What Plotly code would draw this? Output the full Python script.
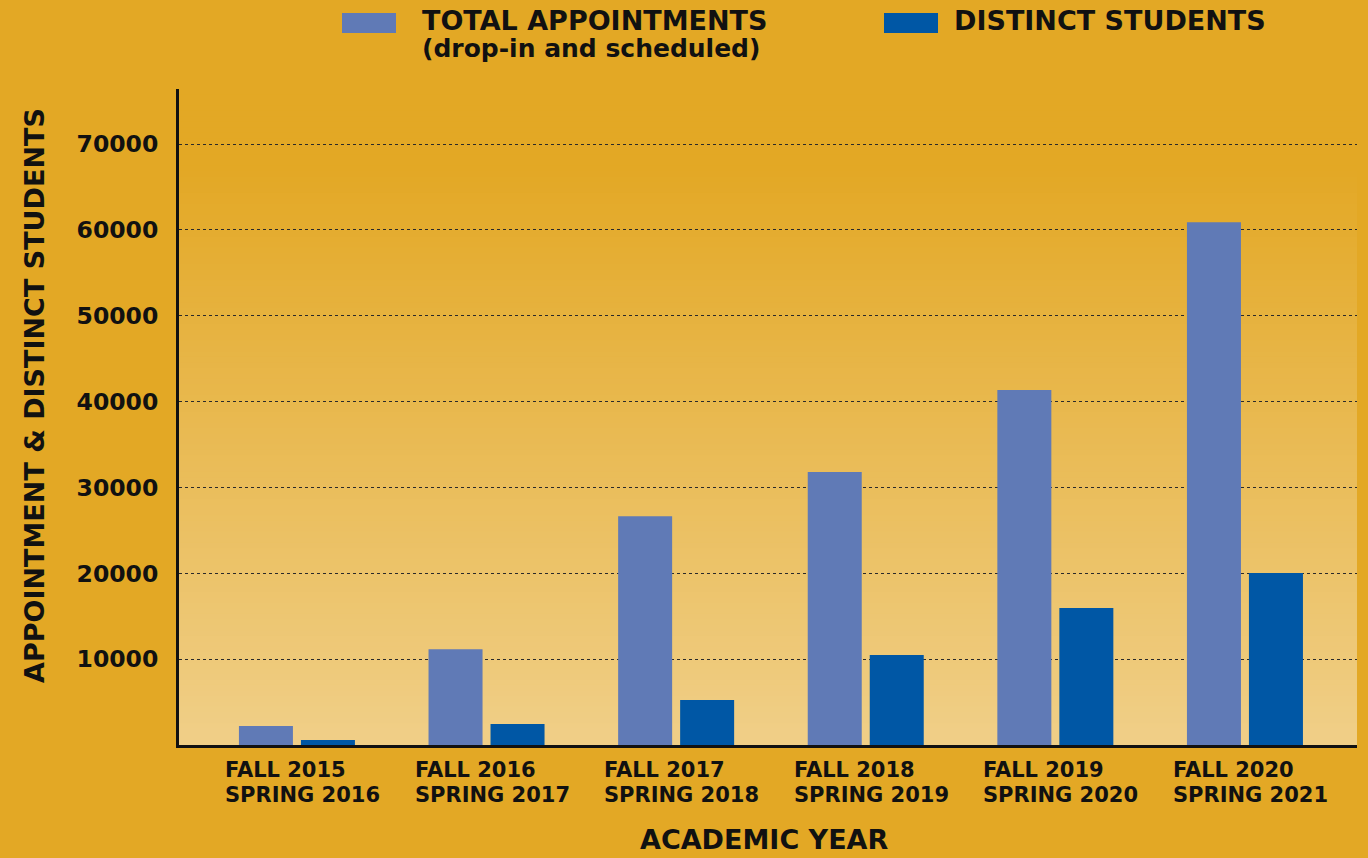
import plotly.graph_objects as go

# ---- data ----
categories = ["FALL 2015<br>SPRING 2016", "FALL 2016<br>SPRING 2017", "FALL 2017<br>SPRING 2018",
              "FALL 2018<br>SPRING 2019", "FALL 2019<br>SPRING 2020", "FALL 2020<br>SPRING 2021"]
total_appointments = [2200, 11150, 26650, 31800, 41350, 60900]
distinct_students = [580, 2450, 5250, 10480, 15950, 20030]
y_ticks = [10000, 20000, 30000, 40000, 50000, 60000, 70000]
legend_labels = ["TOTAL APPOINTMENTS", "(drop-in and scheduled)", "DISTINCT STUDENTS"]
x_title = "ACADEMIC YEAR"
y_title = "APPOINTMENT &amp; DISTINCT STUDENTS"

# ---- style ----
BG = (227, 168, 37)
BOTTOM = (240, 207, 136)
LIGHT_BAR = "#607AB6"
DARK_BAR = "#0057A5"
FONT = "DejaVu Sans"
TXT = "#111111"

W, H = 1368, 858
L, R, T, B = 179, 11, 89, 113
PW, PH = W - L - R, H - T - B


def px_x(p):
    return (p - L) / PW


def px_y(p):
    return (H - B - p) / PH


fig = go.Figure()
fig.add_trace(go.Bar(x=list(range(len(categories))), y=total_appointments,
                     marker=dict(color=LIGHT_BAR, line=dict(width=0)),
                     name=legend_labels[0], showlegend=False))
fig.add_trace(go.Bar(x=list(range(len(categories))), y=distinct_students,
                     marker=dict(color=DARK_BAR, line=dict(width=0)),
                     name=legend_labels[2], showlegend=False))

# gradient background of plot area (strips)
shapes = []
N = 120
for i in range(N):
    y0 = i / N
    y1 = (i + 1) / N + 0.002
    t = 1 - (y0 + y1) / 2  # 0 at top, 1 at bottom
    f = max(0.0, (t - 0.12) / 0.88)
    c = tuple(round(BG[k] + (BOTTOM[k] - BG[k]) * f) for k in range(3))
    shapes.append(dict(type="rect", xref="x domain", yref="y domain", x0=0, x1=1,
                       y0=y0, y1=min(y1, 1), line=dict(width=0),
                       fillcolor="rgb(%d,%d,%d)" % c, layer="below"))

# legend swatches
shapes.append(dict(type="rect", xref="paper", yref="paper", x0=px_x(342), x1=px_x(396),
                   y0=px_y(33), y1=px_y(13), fillcolor=LIGHT_BAR, line=dict(width=0)))
shapes.append(dict(type="rect", xref="paper", yref="paper", x0=px_x(884), x1=px_x(938),
                   y0=px_y(33), y1=px_y(13), fillcolor=DARK_BAR, line=dict(width=0)))

annotations = [
    dict(text="<b>%s</b>" % legend_labels[0], xref="paper", yref="paper", x=px_x(420), y=px_y(21),
         xanchor="left", yanchor="middle", showarrow=False, font=dict(size=27, color=TXT, family=FONT)),
    dict(text="<b>%s</b>" % legend_labels[1], xref="paper", yref="paper", x=px_x(420), y=px_y(49),
         xanchor="left", yanchor="middle", showarrow=False, font=dict(size=25, color=TXT, family=FONT)),
    dict(text="<b>%s</b>" % legend_labels[2], xref="paper", yref="paper", x=px_x(952), y=px_y(21),
         xanchor="left", yanchor="middle", showarrow=False, font=dict(size=27, color=TXT, family=FONT)),
    dict(text="<b>%s</b>" % x_title, xref="paper", yref="paper", x=px_x(764), y=px_y(857),
         xanchor="center", yanchor="bottom", showarrow=False, font=dict(size=27, color=TXT, family=FONT)),
    dict(text="<b>%s</b>" % y_title, xref="paper", yref="paper", x=px_x(34), y=px_y(396),
         xanchor="center", yanchor="middle", textangle=-90, showarrow=False,
         font=dict(size=27, color=TXT, family=FONT)),
]
for i, lab in enumerate(categories):
    for j, line in enumerate(lab.split("<br>")):
        annotations.append(dict(text="<b>%s</b>" % line, xref="x", yref="paper", x=i,
                                y=px_y(770 + 25 * j), xanchor="left", yanchor="middle", xshift=-74,
                                align="left", showarrow=False,
                                font=dict(size=21, color=TXT, family=FONT)))

fig.update_layout(
    width=W, height=H,
    margin=dict(l=L, r=R, t=T, b=B, autoexpand=False),
    paper_bgcolor="rgb(%d,%d,%d)" % BG,
    plot_bgcolor="rgb(%d,%d,%d)" % BG,
    barmode="group", bargap=0.346, bargroupgap=0.129,
    shapes=shapes, annotations=annotations,
    font=dict(family=FONT, color=TXT),
    xaxis=dict(range=[-0.622, 5.591], showticklabels=False, ticks="", showgrid=False,
               zeroline=False, showline=True, linecolor="#111", linewidth=3),
    yaxis=dict(range=[0, 76410], tickvals=y_ticks, ticktext=["<b>%d</b>" % v for v in y_ticks],
               tickfont=dict(size=23.5, color=TXT, family=FONT), ticks="", ticklabelstandoff=13,
               showgrid=True, gridcolor="#2a2a2a", gridwidth=1, griddash="dot",
               zeroline=False, showline=True, linecolor="#111", linewidth=3),
)

fig.write_html("out.html", config={"displayModeBar": False},
               post_script="document.body.style.margin='0px';document.body.style.overflow='hidden';")
